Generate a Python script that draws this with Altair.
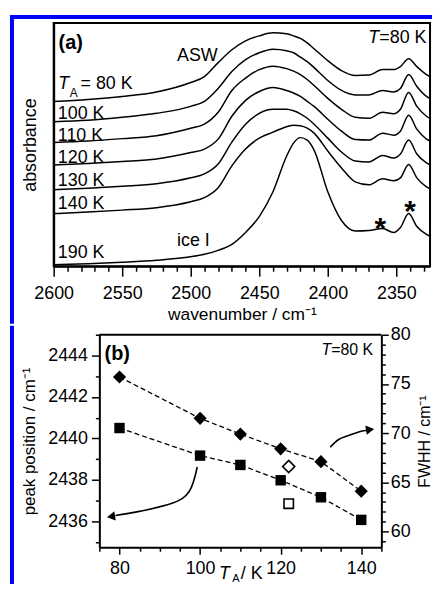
import altair as alt
import pandas as pd

FONT = "Liberation Sans"
BLUE = "#0000ff"

# ---------------- panel (a): IR spectra (arbitrary absorbance units) ----------------
wavenumber = [2600, 2575, 2550, 2525, 2500, 2490, 2480, 2470, 2460, 2450, 2440, 2430, 2425,
              2420, 2415, 2410, 2400, 2390, 2380, 2370, 2360, 2352, 2347, 2341, 2335, 2328, 2320]
abs_80K = [166, 168, 171, 175.5, 185, 191, 205, 218, 227, 232, 235, 234, 232,
           229.4, 225, 219, 207, 197, 192, 192.5, 198, 198, 201, 209, 201, 193, 188]
abs_100K = [145.5, 147, 150, 154, 161, 166, 179, 196, 208, 215, 218.5, 217, 215,
            210.5, 206, 200, 187, 177, 172.5, 172.5, 177, 175.5, 179, 193, 181, 171, 166]
abs_110K = [124.5, 126, 128.5, 131.5, 139, 143, 155, 177, 189.5, 198, 201.5, 199, 196.5,
            193, 188, 182, 169, 158, 150, 149, 155, 153.5, 158, 175, 161, 151, 146]
abs_120K = [102, 103.5, 105.5, 108, 114.5, 118, 128, 151, 167, 176, 180, 177, 174.5,
            171, 166, 161, 148, 136, 127.5, 127, 134, 132, 136, 152, 138, 128, 124]
abs_130K = [77, 78.5, 80.5, 83, 89, 93, 103, 125, 143, 154, 158, 158, 156.5,
            153.5, 149, 143, 129, 115, 106, 105, 111.5, 109, 113, 127, 113, 104, 100]
abs_140K = [53, 54.5, 56.5, 59, 65, 69, 79, 101, 118, 129, 135, 140.5, 142,
            141.5, 139, 134, 116, 99, 85, 82, 88, 86, 89, 102.5, 89, 80, 76.5]
abs_190K = [1.5, 2.5, 4, 6, 9.5, 12, 16, 22, 34, 50, 75, 111, 124,
            129.5, 127, 117, 75, 46, 35.5, 36, 38, 34, 39, 53, 40, 32, 28]
series_names = ["80 K", "100 K", "110 K", "120 K", "130 K", "140 K", "190 K"]
series_values = [abs_80K, abs_100K, abs_110K, abs_120K, abs_130K, abs_140K, abs_190K]

# curve labels (text, wavenumber, absorbance)
label_text = ["100 K", "110 K", "120 K", "130 K", "140 K", "190 K", "ASW", "ice I", "= 80 K"]
label_w = [2597, 2597, 2597, 2597, 2597, 2597, 2510, 2510, 2580.4]
label_a = [148, 126.5, 104, 81, 57.5, 8, 207, 20, 178]
star_w = [2361.6, 2339.9]
star_a = [28, 46]

# ---------------- panel (b): peak position and FWHH ----------------
TA = [80, 100, 110, 120, 130, 140]
peak_position = [2440.5, 2439.17, 2438.72, 2437.98, 2437.16, 2436.07]
fwhh = [75.7, 71.5, 69.9, 68.4, 67.1, 64.1]
TA_open = [122]
peak_open = [2436.85]
fwhh_open = [66.6]
arrow1_TA = [99.3, 97.3, 93.2, 84.9, 79.0]
arrow1_peak = [2438.62, 2437.44, 2436.88, 2436.48, 2436.28]
head1_TA = [77.9]
head1_peak = [2436.23]
arrow2_TA = [132.3, 134.3, 136.8, 139.75, 141.5]
arrow2_fwhh = [68.57, 69.33, 69.75, 70.16, 70.3]
head2_TA = [142.2]
head2_fwhh = [70.36]

one = pd.DataFrame({"k": [0]})

PA_W, PA_H = 379, 245          # panel (a) plot size
PB_OFF, PB_W, PB_H = 46, 284, 214  # panel (b): plot starts 46 px right of panel (a)'s


def cond(mod, big, small):
    return {"condition": {"test": f"datum.value % {mod} === 0", "value": big}, "value": small}


# ===== panel (a) =====
rows = []
for name, vals in zip(series_names, series_values):
    for w, a in zip(wavenumber, vals):
        rows.append({"wavenumber": w, "absorbance": a, "TA": name})
df_a = pd.DataFrame(rows)

x_a = alt.X("wavenumber:Q",
            scale=alt.Scale(domain=[2325.4, 2600], reverse=True, nice=False, zero=False),
            axis=alt.Axis(values=list(range(2330, 2601, 10)), format="d",
                          labelExpr="datum.value % 50 === 0 ? datum.label : ''",
                          tickSize=cond(50, 10, 5), labelPadding=9, labelFlush=False,
                          labelOverlap=False, title="wavenumber / cm⁻¹", titleFontSize=17.5,
                          titlePadding=2.5))
y_a = alt.Y("absorbance:Q", scale=alt.Scale(domain=[0, 245], nice=False, zero=False),
            axis=alt.Axis(labels=False, ticks=False, title="absorbance", titleFontSize=18,
                          titlePadding=14, minExtent=0))

spectra = alt.Chart(df_a).mark_line(color="black", strokeWidth=1.5, interpolate="monotone", clip=True).encode(
    x=x_a, y=y_a, detail="TA:N", order=alt.Order("wavenumber:Q", sort="descending"))

df_lab = pd.DataFrame({"t": label_text, "wavenumber": label_w, "absorbance": label_a})
labels_a = alt.Chart(df_lab).mark_text(align="left", baseline="alphabetic", fontSize=18,
                                       font=FONT, color="black").encode(x=x_a, y=y_a, text="t:N")
T_a = alt.Chart(pd.DataFrame({"t": ["T"], "wavenumber": [2596.6], "absorbance": [178]})).mark_text(
    align="left", baseline="alphabetic", fontSize=18, fontStyle="italic", font=FONT, color="black"
).encode(x=x_a, y=y_a, text="t:N")
sub_a = alt.Chart(pd.DataFrame({"t": ["A"], "wavenumber": [2588.2], "absorbance": [170]})).mark_text(
    align="left", baseline="alphabetic", fontSize=12, font=FONT, color="black"
).encode(x=x_a, y=y_a, text="t:N")
panel_tag_a = alt.Chart(pd.DataFrame({"t": ["(a)"], "wavenumber": [2596.4], "absorbance": [219]})).mark_text(
    align="left", baseline="alphabetic", fontSize=20, fontWeight="bold", font=FONT, color="black"
).encode(x=x_a, y=y_a, text="t:N")
temp_a = alt.Chart(pd.DataFrame({"t": ["=80 K"], "wavenumber": [2328.0], "absorbance": [225]})).mark_text(
    align="right", baseline="alphabetic", fontSize=18, font=FONT, color="black"
).encode(x=x_a, y=y_a, text="t:N")
tempT_a = alt.Chart(pd.DataFrame({"t": ["T"], "wavenumber": [2328.0], "absorbance": [225]})).mark_text(
    align="right", baseline="alphabetic", fontSize=18, fontStyle="italic", dx=-47.5, font=FONT, color="black"
).encode(x=x_a, y=y_a, text="t:N")
stars = alt.Chart(pd.DataFrame({"t": ["*", "*"], "wavenumber": star_w, "absorbance": star_a})).mark_text(
    align="center", baseline="alphabetic", fontSize=30, fontWeight="bold", font=FONT, color="black"
).encode(x=x_a, y=y_a, text="t:N")

blue_left_a = alt.Chart(one).mark_rect(color=BLUE).encode(
    x=alt.value(-44), x2=alt.value(-40), y=alt.value(-8), y2=alt.value(303))
blue_top_a = alt.Chart(one).mark_rect(color=BLUE).encode(
    x=alt.value(-44), x2=alt.value(PA_W + 2), y=alt.value(-8), y2=alt.value(-4))

panel_a = alt.layer(spectra, labels_a, T_a, sub_a, panel_tag_a, temp_a, tempT_a, stars,
                    blue_left_a, blue_top_a).properties(width=PA_W, height=PA_H)

# ===== panel (b) =====
x_b = alt.X("TA:Q", scale=alt.Scale(domain=[75, 145], range=[PB_OFF, PB_OFF + PB_W], nice=False, zero=False),
            axis=alt.Axis(values=list(range(75, 146, 5)), format="d",
                          labelExpr="datum.value % 20 === 0 ? datum.label : ''",
                          tickSize=cond(20, 7, 4), labelPadding=5, labelFlush=False,
                          labelOverlap=False, title=None))
y_l = alt.Y("peak:Q", scale=alt.Scale(domain=[2434.75, 2445], nice=False, zero=False),
            axis=alt.Axis(orient="left", offset=-PB_OFF, values=list(range(2435, 2446)), format="d",
                          labelExpr="datum.value % 2 === 0 ? datum.label : ''",
                          tickSize=cond(2, 8, 4), labelPadding=4, labelFlush=False,
                          labelOverlap=False, title="peak position / cm⁻¹", titleFontSize=17,
                          titlePadding=9.5))
y_r = alt.Y("fwhh:Q", scale=alt.Scale(domain=[58.4, 80], nice=False, zero=False),
            axis=alt.Axis(orient="right", values=list(range(59, 81)), format="d",
                          labelExpr="datum.value % 5 === 0 ? datum.label : ''",
                          tickSize=cond(5, 7, 4), labelPadding=2, labelFlush=False,
                          labelOverlap=False, title="FWHH / cm⁻¹", titleFontSize=16,
                          titleAngle=270, titleBaseline="top", titlePadding=6))

df_sq = pd.DataFrame({"TA": TA, "peak": peak_position})
df_di = pd.DataFrame({"TA": TA, "fwhh": fwhh})

sq_line = alt.Chart(df_sq).mark_line(color="black", strokeWidth=1.3, strokeDash=[5, 3]).encode(x=x_b, y=y_l)
sq_pts = alt.Chart(df_sq).mark_point(shape="square", filled=True, size=110, color="black", opacity=1).encode(x=x_b, y=y_l)
sq_open = alt.Chart(pd.DataFrame({"TA": TA_open, "peak": peak_open})).mark_point(
    shape="square", filled=False, size=90, color="black", strokeWidth=1.6, opacity=1).encode(x=x_b, y=y_l)
arr1 = alt.Chart(pd.DataFrame({"TA": arrow1_TA, "peak": arrow1_peak, "s": range(len(arrow1_TA))})).mark_line(
    color="black", strokeWidth=1.6, interpolate="cardinal").encode(x=x_b, y=y_l, order="s:Q")
head1 = alt.Chart(pd.DataFrame({"TA": head1_TA, "peak": head1_peak})).mark_point(
    shape="triangle-left", filled=True, size=90, color="black", opacity=1, angle=351).encode(x=x_b, y=y_l)
tag_b = alt.Chart(pd.DataFrame({"t": ["(b)"], "TA": [76.3], "peak": [2443.77]})).mark_text(
    align="left", baseline="alphabetic", fontSize=20, fontWeight="bold", font=FONT, color="black"
).encode(x=x_b, y=y_l, text="t:N")
temp_b = alt.Chart(pd.DataFrame({"t": ["=80 K"], "TA": [142.96], "peak": [2444.01]})).mark_text(
    align="right", baseline="alphabetic", fontSize=16, font=FONT, color="black"
).encode(x=x_b, y=y_l, text="t:N")
tempT_b = alt.Chart(pd.DataFrame({"t": ["T"], "TA": [142.96], "peak": [2444.01]})).mark_text(
    align="right", baseline="alphabetic", fontSize=16, fontStyle="italic", dx=-42.3, font=FONT, color="black"
).encode(x=x_b, y=y_l, text="t:N")
xt_T = alt.Chart(pd.DataFrame({"t": ["T"], "TA": [104.7]})).mark_text(
    align="left", baseline="alphabetic", fontSize=18, fontStyle="italic", font=FONT, color="black"
).encode(x=x_b, y=alt.value(246), text="t:N")
xt_A = alt.Chart(pd.DataFrame({"t": ["A"], "TA": [108.0]})).mark_text(
    align="left", baseline="alphabetic", fontSize=11, font=FONT, color="black"
).encode(x=x_b, y=alt.value(249.5), text="t:N")
xt_K = alt.Chart(pd.DataFrame({"t": ["/ K"], "TA": [110.1]})).mark_text(
    align="left", baseline="alphabetic", fontSize=18, font=FONT, color="black"
).encode(x=x_b, y=alt.value(246), text="t:N")
frame_top_b = alt.Chart(one).mark_rule(color="black", strokeWidth=2).encode(
    x=alt.value(PB_OFF), x2=alt.value(PB_OFF + PB_W), y=alt.value(0))
blue_left_b = alt.Chart(one).mark_rect(color=BLUE).encode(
    x=alt.value(-44), x2=alt.value(-40), y=alt.value(-9), y2=alt.value(251))

left_group = alt.layer(sq_line, sq_pts, sq_open, arr1, head1, tag_b, temp_b, tempT_b,
                       xt_T, xt_A, xt_K, frame_top_b, blue_left_b)

di_line = alt.Chart(df_di).mark_line(color="black", strokeWidth=1.3, strokeDash=[5, 3]).encode(x=x_b, y=y_r)
di_pts = alt.Chart(df_di).mark_point(shape="diamond", filled=True, size=175, color="black", opacity=1).encode(x=x_b, y=y_r)
di_open = alt.Chart(pd.DataFrame({"TA": TA_open, "fwhh": fwhh_open})).mark_point(
    shape="diamond", filled=False, size=150, color="black", strokeWidth=1.6, opacity=1).encode(x=x_b, y=y_r)
arr2 = alt.Chart(pd.DataFrame({"TA": arrow2_TA, "fwhh": arrow2_fwhh, "s": range(len(arrow2_TA))})).mark_line(
    color="black", strokeWidth=1.6, interpolate="cardinal").encode(x=x_b, y=y_r, order="s:Q")
head2 = alt.Chart(pd.DataFrame({"TA": head2_TA, "fwhh": head2_fwhh})).mark_point(
    shape="triangle-right", filled=True, size=90, color="black", opacity=1, angle=351).encode(x=x_b, y=y_r)

right_group = alt.layer(di_line, di_pts, di_open, arr2, head2)

panel_b = alt.layer(left_group, right_group).resolve_scale(y="independent").properties(
    width=PB_OFF + PB_W, height=PB_H, view=alt.ViewBackground(stroke="transparent"))

chart = alt.vconcat(panel_a, panel_b, spacing=0).properties(
    padding={"left": 1, "top": 4, "right": 0, "bottom": 0}
).configure_view(stroke="black", strokeWidth=2).configure_axis(
    grid=False, domainColor="black", domainWidth=2, tickColor="black", tickWidth=1.5,
    labelColor="black", titleColor="black", labelFont=FONT, titleFont=FONT,
    labelFontSize=18, titleFontWeight="normal"
)

chart.save("out.html", embed_options={"renderer": "svg", "actions": False})
